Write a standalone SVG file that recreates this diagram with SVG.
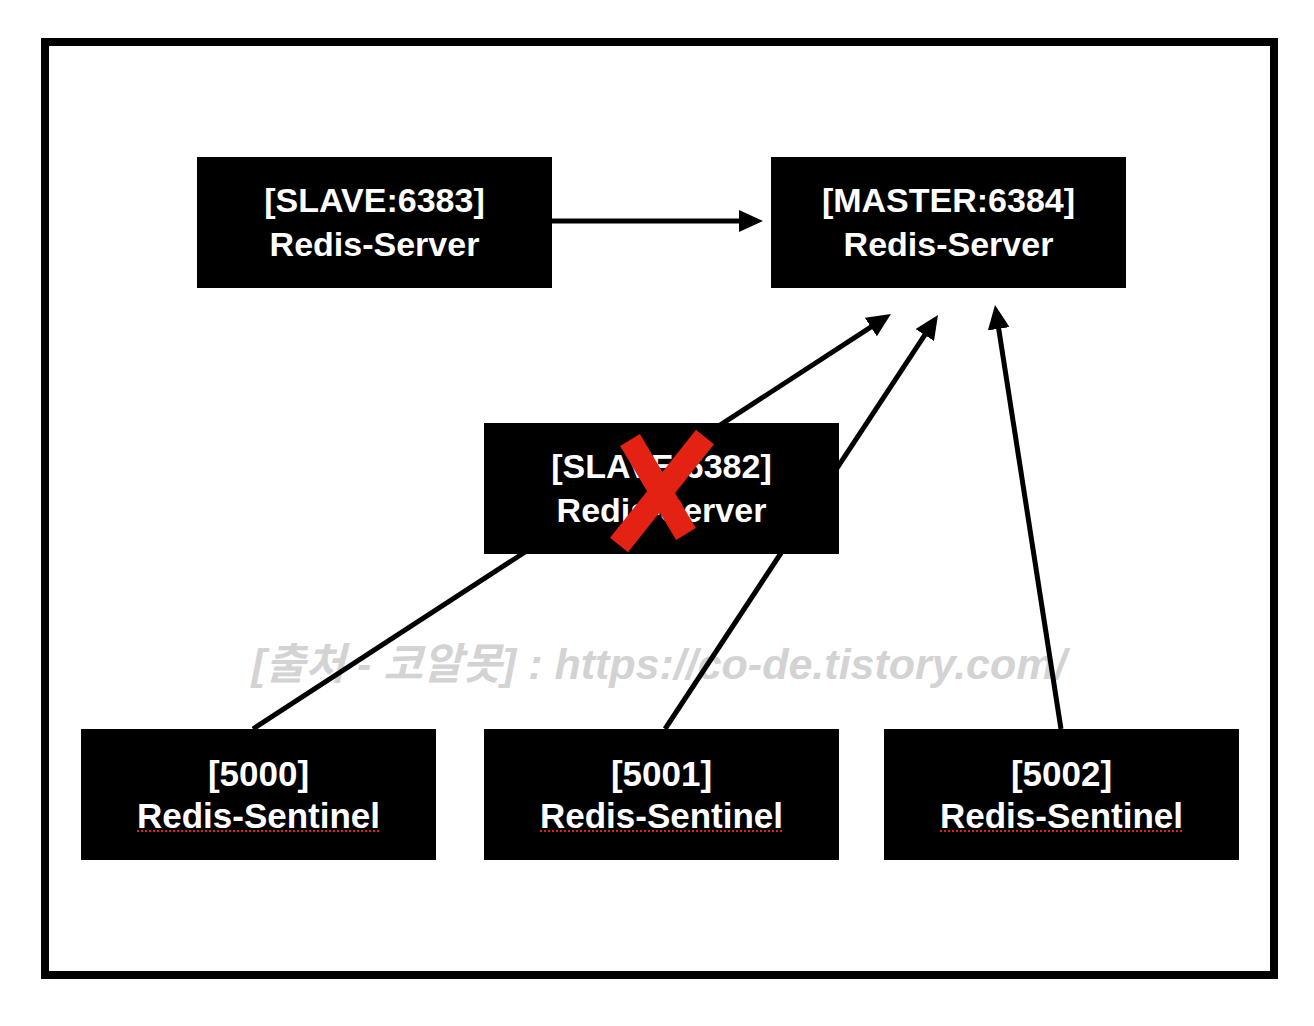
<svg xmlns="http://www.w3.org/2000/svg" width="1314" height="1026" viewBox="0 0 1314 1026">
<style>
.box{fill:#000}
.t{fill:#fff;font-family:"Liberation Sans",Arial,sans-serif;font-size:34px;font-weight:bold;text-anchor:middle}
.ts{font-size:35px}
.conn{stroke:#000;stroke-width:5;fill:none}
.wm{fill:#d3d3d3;font-family:"Liberation Sans","Noto Sans CJK KR",sans-serif;font-size:43px;font-weight:bold;font-style:italic;text-anchor:middle}
.sp{stroke:#e0201a;stroke-width:2;stroke-dasharray:2 2}
.x{stroke:#e32214;stroke-width:23;stroke-linecap:butt}
</style>
<defs>
<marker id="ah" markerUnits="userSpaceOnUse" markerWidth="24" markerHeight="22" viewBox="0 0 24 22" refX="4" refY="11" orient="auto">
<path d="M0,0 L24,11 L0,22 z" fill="#000"/>
</marker>
</defs>
<rect x="0" y="0" width="1314" height="1026" fill="#fff"/>
<rect x="45" y="42" width="1229" height="933" fill="none" stroke="#000" stroke-width="8"/>
<text class="wm" x="659" y="679">[출처 - 코알못] : https://co-de.tistory.com/</text>
<g id="connectors">
<line class="conn" x1="552" y1="221" x2="743" y2="221" marker-end="url(#ah)"/>
<line class="conn" x1="253" y1="729" x2="874.2" y2="324.9" marker-end="url(#ah)"/>
<line class="conn" x1="665" y1="729" x2="927" y2="331.7" marker-end="url(#ah)"/>
<line class="conn" x1="1061" y1="729" x2="998.1" y2="324.8" marker-end="url(#ah)"/>
</g>
<g id="slave6383">
<rect class="box" x="197" y="157" width="355" height="131"/>
<text class="t" x="374.5" y="212">[SLAVE:6383]</text>
<text class="t" x="374.5" y="256">Redis-Server</text>
</g>
<g id="master6384">
<rect class="box" x="771" y="157" width="355" height="131"/>
<text class="t" x="948.5" y="212">[MASTER:6384]</text>
<text class="t" x="948.5" y="256">Redis-Server</text>
</g>
<g id="slave6382">
<rect class="box" x="484" y="423" width="355" height="131"/>
<text class="t" x="661.5" y="478">[SLAVE:6382]</text>
<text class="t" x="661.5" y="522">Redis-Server</text>
<line class="x" x1="705" y1="437" x2="619" y2="545"/>
<line class="x" x1="630" y1="440" x2="686" y2="534"/>
</g>
<g id="sentinel5000">
<rect class="box" x="81" y="729" width="355" height="131"/>
<text class="t ts" x="258.5" y="786">[5000]</text>
<text class="t ts" x="258.5" y="828">Redis-Sentinel</text>
<line class="sp" x1="137" y1="831" x2="379" y2="831"/>
</g>
<g id="sentinel5001">
<rect class="box" x="484" y="729" width="355" height="131"/>
<text class="t ts" x="661.5" y="786">[5001]</text>
<text class="t ts" x="661.5" y="828">Redis-Sentinel</text>
<line class="sp" x1="540" y1="831" x2="782" y2="831"/>
</g>
<g id="sentinel5002">
<rect class="box" x="884" y="729" width="355" height="131"/>
<text class="t ts" x="1061.5" y="786">[5002]</text>
<text class="t ts" x="1061.5" y="828">Redis-Sentinel</text>
<line class="sp" x1="940" y1="831" x2="1182" y2="831"/>
</g>
</svg>
